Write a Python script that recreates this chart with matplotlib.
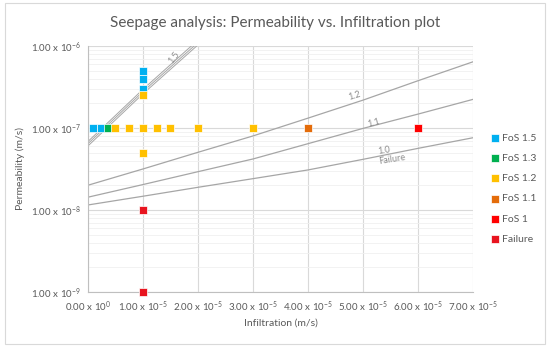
import matplotlib
matplotlib.use("Agg")
import matplotlib.pyplot as plt
import numpy as np

# scatter data (infiltration m/s, permeability m/s)
fos15_x = [1e-6, 2.5e-6, 1e-5, 1e-5, 1e-5]
fos15_y = [1e-7, 1e-7, 3e-7, 4e-7, 5e-7]
fos13_x = [3.75e-6]
fos13_y = [1e-7]
fos12_x = [5e-6, 7.5e-6, 1e-5, 1.25e-5, 1.5e-5, 2e-5, 3e-5, 1e-5, 1e-5]
fos12_y = [1e-7, 1e-7, 1e-7, 1e-7, 1e-7, 1e-7, 1e-7, 2.5e-7, 5e-8]
fos11_x = [4e-5]
fos11_y = [1e-7]
fos1_x = [6e-5]
fos1_y = [1e-7]
fail_x = [1e-5, 1e-5]
fail_y = [1e-8, 1e-9]

# FoS contour lines
curve_x = [0, 1e-5, 2e-5, 3e-5, 4e-5, 5e-5, 6e-5, 7e-5]
curve12 = [2.0e-8, 3.16e-8, 5.05e-8, 8.0e-8, 1.32e-7, 2.19e-7, 3.78e-7, 6.44e-7]
curve11 = [1.43e-8, 2.04e-8, 2.93e-8, 4.19e-8, 6.44e-8, 9.9e-8, 1.48e-7, 2.24e-7]
curve10 = [1.15e-8, 1.47e-8, 1.89e-8, 2.41e-8, 3.08e-8, 4.15e-8, 5.65e-8, 7.62e-8]
steep_x = [0, 1e-5, 2e-5]
curve15a = [6.8e-8, 2.95e-7, 1.18e-6]
curve15b = [6.4e-8, 2.77e-7, 1.1e-6]
curve15c = [6.0e-8, 2.6e-7, 1.03e-6]

xticks = [0, 1e-5, 2e-5, 3e-5, 4e-5, 5e-5, 6e-5, 7e-5]
xlabels = [r"0.00 x 10$^{0}$"] + [r"%d.00 x 10$^{-5}$" % i for i in range(1, 8)]
yticks = [1e-9, 1e-8, 1e-7, 1e-6]
ylabels = [r"1.00 x 10$^{-9}$", r"1.00 x 10$^{-8}$", r"1.00 x 10$^{-7}$", r"1.00 x 10$^{-6}$"]

plt.rcParams['font.family'] = ['Lato', 'DejaVu Sans']
plt.rcParams['mathtext.fontset'] = 'custom'
plt.rcParams['mathtext.rm'] = 'Lato'
plt.rcParams['mathtext.it'] = 'Lato:italic'
plt.rcParams['mathtext.bf'] = 'Lato:bold'

txt = '#595959'
fig = plt.figure(figsize=(5.5, 3.48), dpi=100)
ax = fig.add_axes([0.1595, 0.161, 0.7011, 0.7068])

# outer chart border
fig.patches.append(plt.Rectangle((0.009, 0.012), 0.982, 0.978, transform=fig.transFigure,
                                 fill=False, edgecolor='#D9D9D9', lw=0.8))

ax.set_yscale('log')
ax.set_xlim(0, 7e-5)
ax.set_ylim(1e-9, 1e-6)

# lines
lc = '#A6A6A6'
for cy in [curve12, curve11, curve10]:
    ax.plot(curve_x, cy, color=lc, lw=0.9, zorder=2)
for cy in [curve15a, curve15b, curve15c]:
    ax.plot(steep_x, cy, color=lc, lw=0.7, zorder=2)

ms = 30
kw = dict(marker='s', s=ms, zorder=3, lw=0.5, edgecolors='white', clip_on=False)
ax.scatter(fos15_x, fos15_y, color='#00B0F0', label='FoS 1.5', **kw)
ax.scatter(fos13_x, fos13_y, color='#00B050', label='FoS 1.3', **kw)
ax.scatter(fos12_x, fos12_y, color='#FFC000', label='FoS 1.2', **kw)
ax.scatter(fos11_x, fos11_y, color='#E46C0A', label='FoS 1.1', **kw)
ax.scatter(fos1_x, fos1_y, color='#FF0000', label='FoS 1', **kw)
ax.scatter(fail_x, fail_y, color='#E8141F', label='Failure', **kw)

# curve labels
ax.text(1.56e-5, 7.2e-7, '1.5', color='#8C8C8C', fontsize=6.5, rotation=52, ha='center', va='center')
ax.text(4.85e-5, 2.45e-7, '1.2', color='#8C8C8C', fontsize=6.5, rotation=17, ha='center', va='center')
ax.text(5.2e-5, 1.15e-7, '1.1', color='#8C8C8C', fontsize=6.5, rotation=15, ha='center', va='center')
ax.text(5.38e-5, 5.3e-8, '1.0', color='#8C8C8C', fontsize=6.5, rotation=9, ha='center', va='center')
ax.text(5.53e-5, 4.1e-8, 'Failure', color='#8C8C8C', fontsize=6.5, rotation=9, ha='center', va='center')

ax.set_xticks(xticks)
ax.set_xticklabels(xlabels)
ax.set_yticks(yticks)
ax.set_yticklabels(ylabels)
ax.tick_params(axis='both', which='both', length=0, labelsize=7, colors=txt, pad=5)
ax.yaxis.set_minor_formatter(matplotlib.ticker.NullFormatter())
ax.grid(True, which='major', color='#D9D9D9', lw=0.8)
ax.grid(True, which='minor', axis='y', color='#F0F0F0', lw=0.6)
ax.set_axisbelow(True)
for s in ['top', 'right']:
    ax.spines[s].set_visible(False)
for s in ['left', 'bottom']:
    ax.spines[s].set_color('#BFBFBF')
    ax.spines[s].set_linewidth(0.8)

ax.set_xlabel('Infiltration (m/s)', fontsize=7.5, color=txt, labelpad=4)
ax.set_ylabel('Permeability (m/s)', fontsize=7.5, color=txt, labelpad=4)
fig.suptitle('Seepage analysis: Permeability vs. Infiltration plot', x=0.5, y=0.955,
             fontsize=11, color=txt)

ax.legend(loc='center left', bbox_to_anchor=(1.0, 0.42), frameon=False, fontsize=7.5,
          labelcolor=txt, handlelength=0.8, handletextpad=0.3, labelspacing=1.05,
          markerscale=1.0, borderaxespad=1.3)

plt.savefig('out.png', dpi=100)
